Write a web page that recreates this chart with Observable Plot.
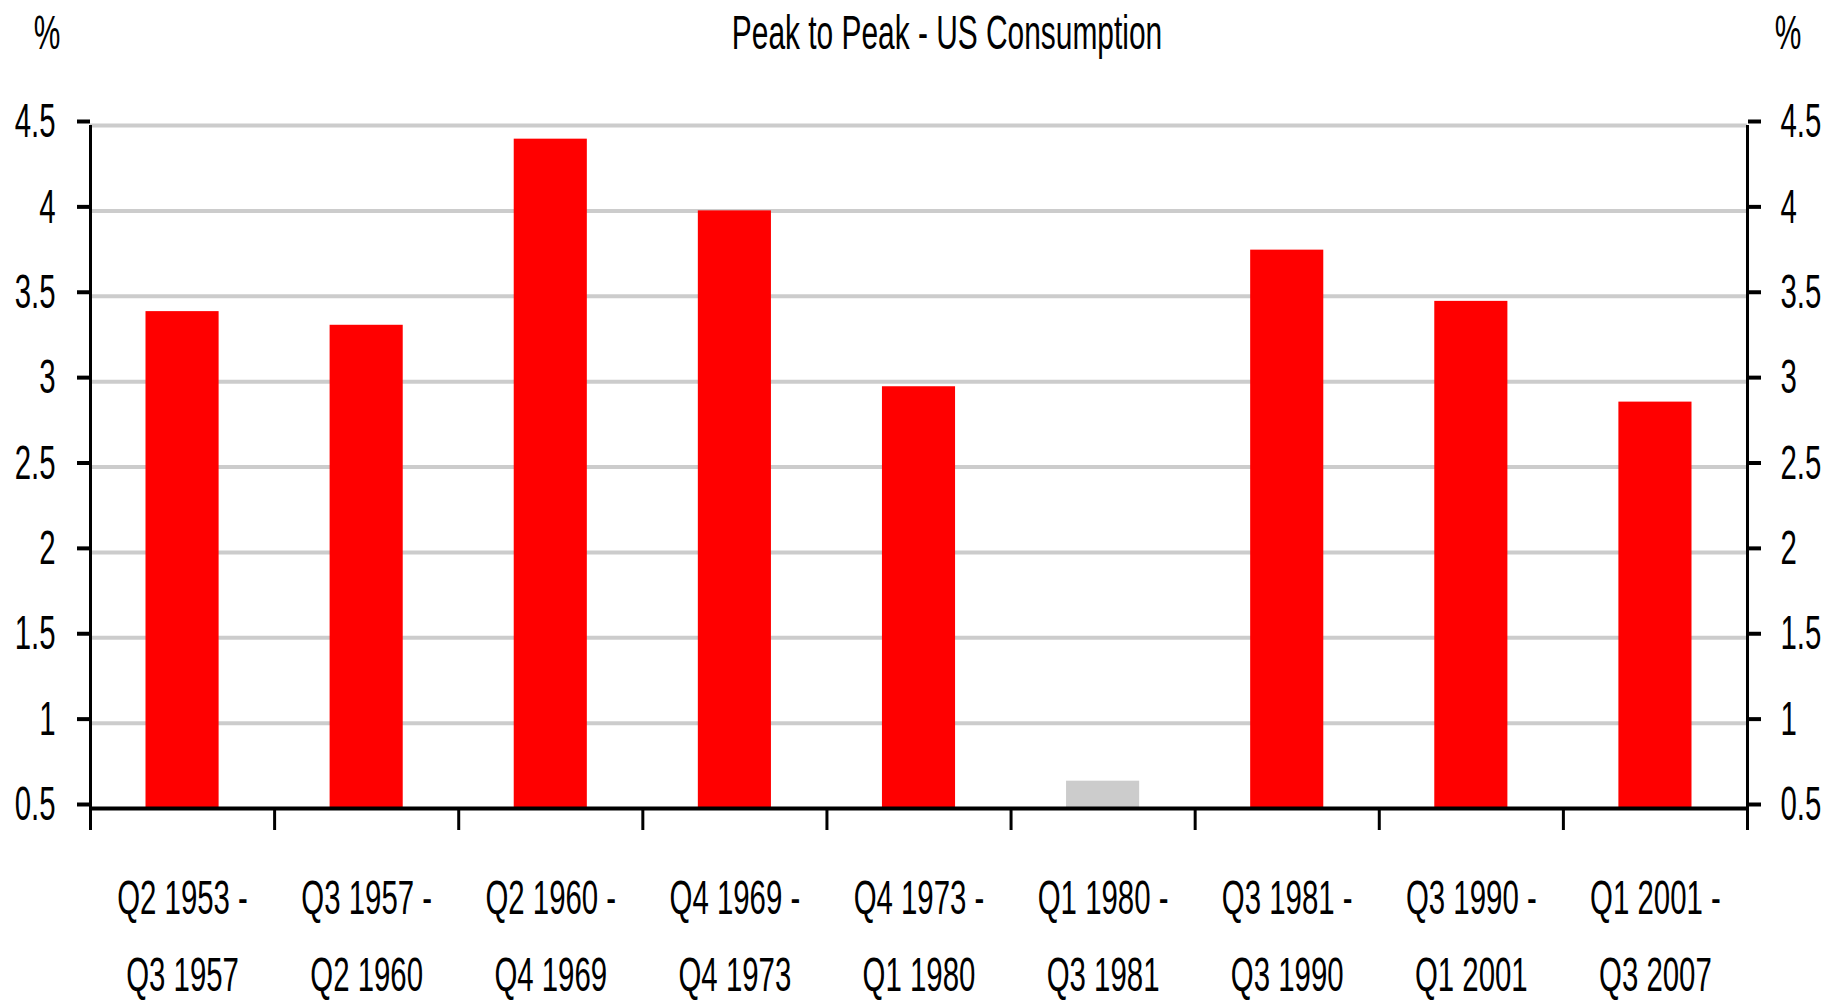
<!DOCTYPE html>
<html>
<head>
<meta charset="utf-8">
<script src="https://cdn.jsdelivr.net/npm/d3@7"></script>
<script src="https://cdn.jsdelivr.net/npm/@observablehq/plot@0.6"></script>
<style>
  html, body { margin: 0; padding: 0; background: #fff; }
  body { width: 1834px; height: 1000px; overflow: hidden; font-family: "Liberation Sans", Arial, sans-serif; }
  #head { position: relative; height: 70px; width: 1834px; }
  #head div { position: absolute; top: 8px; font-size: 49px; line-height: 49px; color: #000; white-space: nowrap;
              transform: translateX(-50%) scaleX(0.61); transform-origin: center; }
  #title { left: 947px; }
  #pl { left: 47px; }
  #pr { left: 1788px; }
  svg text { font-family: "Liberation Sans", Arial, sans-serif; }
</style>
</head>
<body>
<div id="head">
  <div id="pl">%</div>
  <div id="title">Peak to Peak - US Consumption</div>
  <div id="pr">%</div>
</div>
<div id="chart"></div>
<script>
const periodStart = ["Q2 1953","Q3 1957","Q2 1960","Q4 1969","Q4 1973","Q1 1980","Q3 1981","Q3 1990","Q1 2001"];
const periodEnd   = ["Q3 1957","Q2 1960","Q4 1969","Q4 1973","Q1 1980","Q3 1981","Q3 1990","Q1 2001","Q3 2007"];
const growth      = [3.41, 3.33, 4.42, 4.0, 2.97, 0.66, 3.77, 3.47, 2.88];
const yTicks      = [0.5, 1, 1.5, 2, 2.5, 3, 3.5, 4, 4.5];
const shortCycle  = "Q1 1980";

const data = periodStart.map((s, i) => ({
  i, start: s, end: periodEnd[i], value: growth[i],
  label: s + " -\n" + periodEnd[i]
}));
const boundaries = d3.range(0, data.length + 1);

const chart = Plot.plot({
  width: 1834,
  height: 930,
  marginTop: 55,
  marginBottom: 192,
  marginLeft: 90,
  marginRight: 87,
  style: { fontSize: "49px", background: "#fff", color: "#000" },
  x: { domain: [0, data.length], axis: null },
  y: { domain: [0.5, 4.5], axis: null },
  marks: [
    Plot.ruleY(yTicks.slice(1), { stroke: "#cccccc", strokeWidth: 4 }),
    Plot.rectY(data, {
      x1: "i", x2: d => d.i + 1, y1: 0.5, y2: "value",
      insetLeft: 55.5, insetRight: 55.5,
      fill: d => d.start === shortCycle ? "#cccccc" : "#ff0000"
    }),
    Plot.ruleY([0.5], { stroke: "#000", strokeWidth: 4 }),
    Plot.ruleX([0, data.length], { y1: 0.5, y2: 4.5, stroke: "#000", strokeWidth: 3 }),
    Plot.axisX(boundaries, { tickSize: 22, strokeWidth: 3, tickFormat: () => "", stroke: "#000", label: null }),
    Plot.axisY(yTicks, { anchor: "left", tickSize: 13, tickPadding: 22, strokeWidth: 4, fontSize: 49, dy: -4, tickFormat: d => String(d), label: null }),
    Plot.axisY(yTicks, { anchor: "right", tickSize: 13, tickPadding: 20, strokeWidth: 4, fontSize: 49, dy: -4, tickFormat: d => String(d), label: null }),
    Plot.text(data, {
      x: d => d.i + 0.5, y: 0.5, text: "label", dy: 119,
      fontSize: 49, lineHeight: 1.57, fill: "#000"
    })
  ]
});

// condense all SVG text horizontally to mimic the narrow face of the original
const SX = 0.6;
chart.querySelectorAll("text").forEach(t => {
  const tr = t.getAttribute("transform") || "";
  const xa = t.getAttribute("x");
  let shift = "";
  if (xa !== null && !isNaN(+xa) && +xa !== 0) { shift = ` translate(${+xa},0)`; t.setAttribute("x", 0); }
  t.setAttribute("transform", `${tr}${shift} scale(${SX},1)`.trim());
});
document.getElementById("chart").appendChild(chart);
</script>
</body>
</html>
